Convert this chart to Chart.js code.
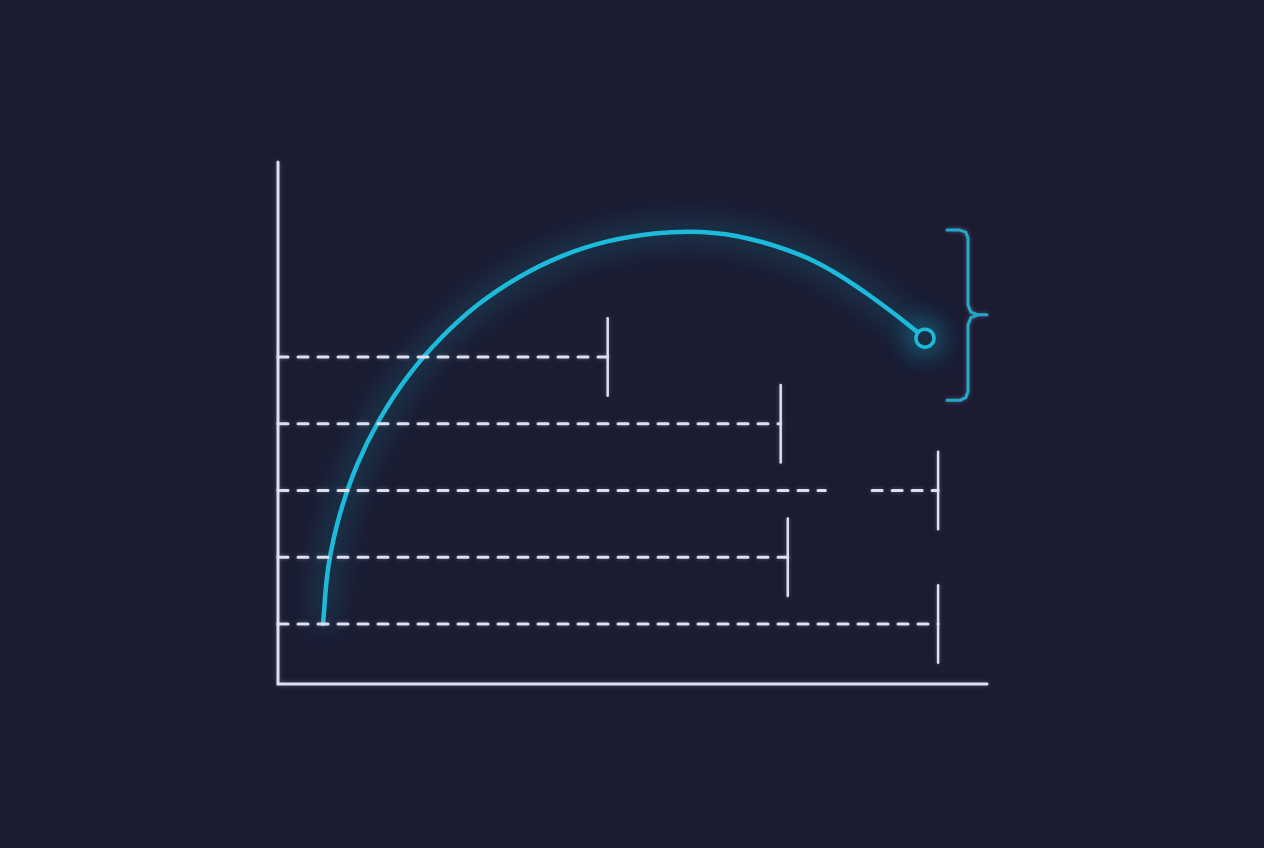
<!DOCTYPE html>
<html>
<head>
<meta charset="utf-8">
<script src="https://cdn.jsdelivr.net/npm/chart.js@4"></script>
<style>
  html, body { margin: 0; padding: 0; background: #1b1c32; }
  canvas { display: block; }
</style>
</head>
<body>
<canvas id="arcChart" width="1264" height="848"></canvas>
<script>
// rows (y) and where each dashed line stops (x, 0..100)
const rows = [1, 2, 3, 4, 5];
const dashEnds = [93.1, 71.9, 93.1, 70.9, 46.5];
// row 3 has a break in the dashes
const gapRow = 3;
const gapFrom = 77.2;
const gapTo = 83.8;
const capHalf = 0.58;

// glowing curve
const curveX = [6.35, 7.12, 8.72, 11.14, 14.36, 18.32, 22.96, 28.18, 33.91, 40.03, 46.46, 53.09, 59.77, 66.43, 73.62, 78.28, 83.03, 87.73, 91.25];
const curveY = [1.0, 1.87, 2.64, 3.38, 4.07, 4.71, 5.28, 5.78, 6.19, 6.51, 6.73, 6.85, 6.87, 6.77, 6.53, 6.28, 5.95, 5.58, 5.28];

// brace on the right
const braceX = [94.36, 96.19, 97.0, 97.32, 97.32, 97.73, 98.73, 100, 98.73, 97.73, 97.32, 97.32, 97.0, 96.19, 94.36];
const braceY = [6.9, 6.9, 6.87, 6.78, 5.78, 5.67, 5.63, 5.63, 5.63, 5.59, 5.48, 4.48, 4.39, 4.35, 4.35];

const xMin = 0, xMax = 100;
const yMin = 0.1, yMax = 7.92;

const BG = "#1b1c32";
const LINE = "#dde0ef";
const CYAN = "#1cbbdc";

const datasets = [];

// axes
datasets.push({
  data: [{ x: xMin, y: yMax }, { x: xMin, y: yMin }, { x: xMax, y: yMin }],
  borderColor: LINE, borderWidth: 3, pointRadius: 0, tension: 0,
  borderCapStyle: "round", order: 1, clip: false
});

// dashed rows + caps
rows.forEach((r, i) => {
  let pts;
  if (r === gapRow) {
    pts = [{ x: xMin, y: r }, { x: gapFrom, y: r }, { x: (gapFrom + gapTo) / 2, y: null }, { x: gapTo, y: r }, { x: dashEnds[i], y: r }];
  } else {
    pts = [{ x: xMin, y: r }, { x: dashEnds[i], y: r }];
  }
  datasets.push({
    data: pts, borderColor: LINE, borderWidth: 3, borderDash: [10, 10],
    borderCapStyle: "round",
    pointRadius: 0, tension: 0, spanGaps: false, order: 1, clip: false
  });
  datasets.push({
    data: [{ x: dashEnds[i], y: r - capHalf }, { x: dashEnds[i], y: r + capHalf }],
    borderColor: LINE, borderWidth: 2.5, borderCapStyle: "round",
    pointRadius: 0, tension: 0, order: 1, clip: false
  });
});

// curve
const curvePts = curveX.map((x, i) => ({ x: x, y: curveY[i] }));
datasets.push({
  id: "curve",
  data: curvePts, borderColor: CYAN, borderWidth: 4.5, tension: 0.4,
  borderCapStyle: "round",
  pointRadius: curvePts.map((p, i) => (i === curvePts.length - 1 ? 9 : 0)),
  pointBorderWidth: 3.5, pointBorderColor: CYAN, pointBackgroundColor: BG,
  order: 3, clip: false
});

// brace
datasets.push({
  data: braceX.map((x, i) => ({ x: x, y: braceY[i] })),
  borderColor: "#1fa9cb", borderWidth: 3, tension: 0,
  borderCapStyle: "round", borderJoinStyle: "round",
  pointRadius: 0, order: 2, clip: false
});

const curveIndex = datasets.findIndex((d) => d.id === "curve");

const bgPlugin = {
  id: "bg",
  beforeDraw(chart) {
    const c = chart.ctx;
    c.save();
    c.fillStyle = BG;
    c.fillRect(0, 0, chart.width, chart.height);
    c.restore();
  }
};

// neon glow around the curve
const glowPlugin = {
  id: "glow",
  beforeDatasetDraw(chart, args) {
    const c = chart.ctx;
    c.save();
    if (args.index === curveIndex) {
      c.shadowColor = "rgba(28,187,220,0.9)";
      c.shadowBlur = 30;
    } else {
      c.shadowColor = "rgba(220,225,245,0.3)";
      c.shadowBlur = 4;
    }
  },
  afterDatasetDraw(chart) {
    chart.ctx.restore();
  }
};

new Chart(document.getElementById("arcChart"), {
  type: "line",
  data: { datasets: datasets },
  options: {
    responsive: false,
    animation: false,
    layout: { padding: { left: 278, right: 277, top: 162, bottom: 164 } },
    scales: {
      x: { type: "linear", min: xMin, max: xMax, display: false },
      y: { type: "linear", min: yMin, max: yMax, display: false }
    },
    plugins: {
      legend: { display: false },
      tooltip: { enabled: false }
    }
  },
  plugins: [bgPlugin, glowPlugin]
});
</script>
</body>
</html>
